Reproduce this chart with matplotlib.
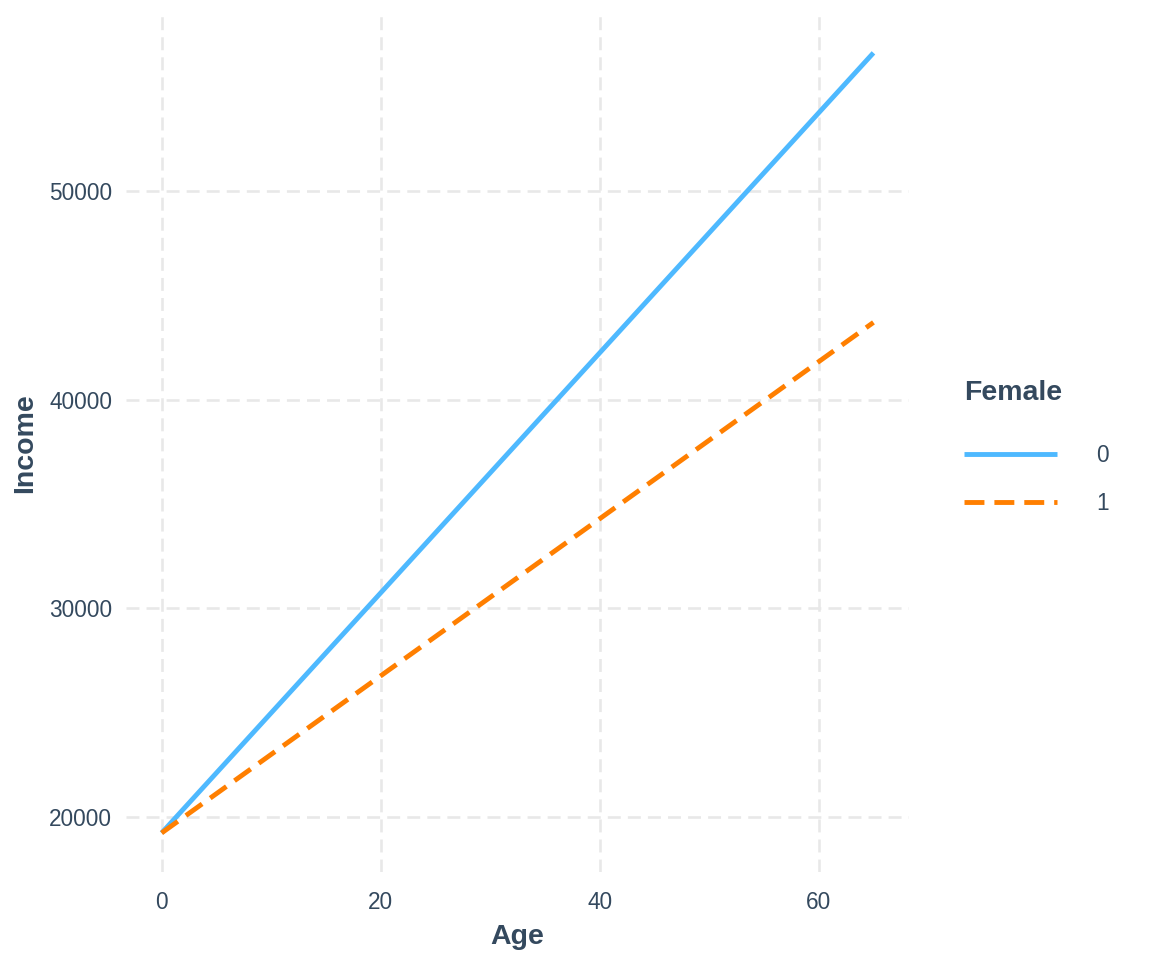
import numpy as np
import matplotlib
matplotlib.use('Agg')
import matplotlib.pyplot as plt

plt.rcParams['font.family'] = ['Liberation Sans', 'DejaVu Sans']

# 数据
ages = [0, 65]
income_male = [19230, 56620]    # Female = 0
income_female = [19230, 43700]  # Female = 1
x_ticks = [0, 20, 40, 60]
y_ticks = [20000, 30000, 40000, 50000]

text_col = '#34495E'
blue = '#4EB9FF'
orange = '#FF7F00'

fig = plt.figure(figsize=(11.52, 9.6), dpi=100)
ax = fig.add_axes([0.1094, 0.0917, 0.6797, 0.8937])

lw = 3.5
ax.plot(ages, income_male, color=blue, lw=lw, solid_capstyle='butt', label='0')
ax.plot(ages, income_female, color=orange, lw=lw, dashes=(4.1, 2.05),
        dash_capstyle='butt', label='1')

ax.set_xlim(-3.25, 68.25)
ax.set_ylim(17361, 58481)
ax.set_xticks(x_ticks)
ax.set_yticks(y_ticks)
ax.tick_params(axis='x', length=0, labelsize=16.3, labelcolor=text_col, pad=14)
ax.tick_params(axis='y', length=0, labelsize=16.3, labelcolor=text_col, pad=10)
ax.grid(True, color='#E8E8E8', lw=1.9, linestyle=(0, (4.9, 2.7)))
ax.set_axisbelow(True)
for s in ax.spines.values():
    s.set_visible(False)

ax.set_xlabel('Age', fontsize=20.5, fontweight='bold', color=text_col, labelpad=7)
ax.set_ylabel('Income', fontsize=20.5, fontweight='bold', color=text_col, labelpad=8)

leg = ax.legend(title='Female', loc='upper left', bbox_to_anchor=(1.070, 0.573),
                frameon=False, fontsize=16.3, handlelength=4.1, handletextpad=1.75,
                labelspacing=1.12, title_fontproperties={'size': 20.5, 'weight': 'bold'},
                borderaxespad=0, borderpad=0)
leg._legend_box.align = 'left'
leg._legend_box.sep = 27
leg.get_title().set_color(text_col)
for t in leg.get_texts():
    t.set_color(text_col)

fig.savefig('out.png', dpi=100)
